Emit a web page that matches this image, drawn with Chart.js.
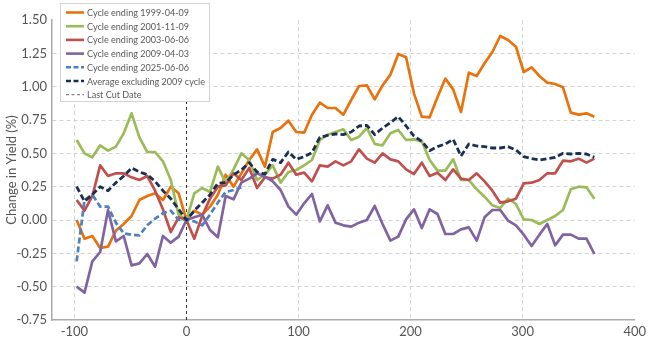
<!DOCTYPE html>
<html><head><meta charset="utf-8">
<script src="https://cdn.jsdelivr.net/npm/chart.js@4.4.0/dist/chart.umd.min.js"></script>
<style>html,body{margin:0;padding:0;background:#fff;}</style>
</head><body>
<canvas id="c" width="650" height="350" style="display:block;width:650px;height:350px"></canvas>
<script>
// ---- data (days relative to last cut date) ----
const days = [-98,-91,-84,-77,-70,-63,-56,-49,-42,-35,-28,-21,-14,-7,0,7,14,21,28,35,42,49,56,63,70,77,84,91,98,105,112,119,126,133,140,147,154,161,168,175,182,189,196,203,210,217,224,231,238,245,252,259,266,273,280,287,294,301,308,315,322,329,336,343,350,357,364];

const cycle1999 = [0.00,-0.14,-0.12,-0.21,-0.20,-0.08,-0.03,0.03,0.15,0.18,
  0.20,0.15,0.25,0.20,0.00,0.07,0.04,0.10,0.19,0.34,
  0.25,0.35,0.45,0.53,0.40,0.66,0.69,0.745,0.66,0.655,
  0.79,0.88,0.84,0.84,0.79,0.90,1.005,1.01,0.905,1.01,
  1.09,1.245,1.22,0.95,0.775,0.77,0.92,1.06,0.98,0.81,
  1.105,1.08,1.175,1.26,1.38,1.35,1.30,1.11,1.145,1.08,
  1.03,1.02,0.995,0.805,0.79,0.80,0.775];

const cycle2001 = [0.60,0.50,0.47,0.56,0.52,0.55,0.65,0.80,0.62,0.51,
  0.51,0.44,0.30,0.04,0.00,0.20,0.24,0.21,0.40,0.28,
  0.38,0.50,0.45,0.30,0.34,0.41,0.28,0.36,0.375,0.41,
  0.45,0.60,0.64,0.66,0.68,0.60,0.625,0.69,0.57,0.56,
  0.65,0.675,0.60,0.605,0.59,0.45,0.37,0.37,0.455,0.30,
  0.30,0.23,0.175,0.11,0.09,0.16,0.12,0.005,0.00,-0.03,
  0.00,0.03,0.075,0.23,0.25,0.245,0.16];

const cycle2003 = [0.15,0.07,0.18,0.41,0.33,0.35,0.35,0.32,0.30,0.33,
  0.22,0.08,-0.09,0.02,0.00,-0.14,0.03,0.16,0.25,0.26,
  0.35,0.30,0.39,0.24,0.32,0.31,0.34,0.43,0.34,0.355,
  0.29,0.41,0.40,0.44,0.41,0.44,0.53,0.46,0.43,0.50,
  0.455,0.44,0.38,0.345,0.43,0.33,0.355,0.30,0.38,0.31,
  0.30,0.35,0.29,0.22,0.13,0.14,0.16,0.275,0.28,0.30,
  0.35,0.35,0.445,0.44,0.46,0.43,0.46];

const cycle2009 = [-0.50,-0.545,-0.31,-0.24,0.075,-0.16,-0.12,-0.34,-0.325,-0.255,
  -0.35,-0.12,-0.17,-0.125,0.00,0.02,0.04,-0.075,-0.13,0.18,
  0.155,0.28,0.31,0.35,0.325,0.29,0.225,0.10,0.04,0.125,
  0.195,-0.01,0.11,-0.02,-0.04,-0.05,-0.02,0.00,0.105,-0.03,
  -0.155,-0.125,0.005,0.08,-0.06,0.08,0.045,-0.105,-0.105,-0.07,
  -0.055,-0.155,0.02,0.075,0.075,-0.005,-0.04,-0.11,-0.195,-0.11,
  -0.03,-0.19,-0.11,-0.11,-0.14,-0.14,-0.255];

const cycle2025 = [-0.31,0.15,0.19,0.10,0.10,-0.02,-0.10,-0.11,-0.115,-0.04,
  0.01,0.05,0.07,0.00,0.00,-0.01,-0.04,0.04,0.13,0.21,
  0.225,0.245];

const avgEx2009 = [0.25,0.14,0.19,0.25,0.22,0.28,0.33,0.39,0.36,0.34,
  0.29,0.22,0.16,0.08,0.00,0.07,0.13,0.19,0.275,0.28,
  0.34,0.375,0.43,0.36,0.345,0.455,0.43,0.51,0.455,0.475,
  0.505,0.62,0.635,0.645,0.64,0.66,0.705,0.71,0.64,0.69,
  0.73,0.775,0.705,0.63,0.59,0.52,0.55,0.57,0.605,0.48,
  0.57,0.555,0.55,0.54,0.54,0.55,0.525,0.475,0.46,0.45,
  0.46,0.47,0.50,0.495,0.50,0.495,0.47];

const seriesLabels = ['Cycle ending 1999-04-09','Cycle ending 2001-11-09','Cycle ending 2003-06-06',
  'Cycle ending 2009-04-03','Cycle ending 2025-06-06','Average excluding 2009 cycle','Last Cut Date'];
const lastCutDay = 0;
const xTicks = [-100,0,100,200,300,400];
const yTicks = [-0.75,-0.50,-0.25,0.00,0.25,0.50,0.75,1.00,1.25,1.50];

// ---- build ----
const pts = (vals) => vals.map((v,i) => ({x: days[i], y: v}));
const FONT = 'Lato';
const yMin = yTicks[0], yMax = yTicks[yTicks.length-1];

const datasets = [
  {label: seriesLabels[0], data: pts(cycle1999), borderColor:'#E8720C', borderWidth:2.7, order:6},
  {label: seriesLabels[1], data: pts(cycle2001), borderColor:'#9BBB59', borderWidth:2.7, order:5},
  {label: seriesLabels[2], data: pts(cycle2003), borderColor:'#C0504D', borderWidth:2.7, order:4},
  {label: seriesLabels[3], data: pts(cycle2009), borderColor:'#8064A2', borderWidth:2.7, order:3},
  {label: seriesLabels[4], data: pts(cycle2025), borderColor:'#4F81BD', borderWidth:2.7, borderDash:[6,3], order:2},
  {label: seriesLabels[5], data: pts(avgEx2009), borderColor:'#1B2F55', borderWidth:2.8, borderDash:[6,3], order:1},
  {label: seriesLabels[6], data: [{x:lastCutDay,y:yMin},{x:lastCutDay,y:yMax}], borderColor:'#333333', borderWidth:1, borderDash:[3,3], order:7, legendColor:'#666666'}
];
datasets.forEach(d => { d.pointRadius = 0; d.pointHoverRadius = 0; d.fill = false; d.tension = 0; d.borderCapStyle='butt'; d.borderJoinStyle='round'; });

const boxLegend = {
  id: 'boxLegend',
  afterDraw(chart) {
    const ctx = chart.ctx;
    const x0 = 60, y0 = 3, w = 149, h = 98;
    ctx.save();
    ctx.fillStyle = 'rgba(255,255,255,0.96)';
    ctx.fillRect(x0, y0, w, h);
    ctx.strokeStyle = '#d4d4d4'; ctx.lineWidth = 1;
    ctx.strokeRect(x0 + 0.5, y0 + 0.5, w, h);
    ctx.font = '9.6px ' + FONT;
    const longest = Math.max(...chart.data.datasets.map(ds => ctx.measureText(ds.label).width));
    const scale = Math.min(1, 118 / longest);
    chart.data.datasets.forEach((ds, i) => {
      const y = 12.5 + i * 13.7;
      ctx.beginPath();
      ctx.setLineDash(ds.borderDash ? (ds.borderWidth < 2 ? [3,2.5] : [5,2.5]) : []);
      ctx.strokeStyle = ds.legendColor || ds.borderColor;
      ctx.lineWidth = ds.borderWidth < 2 ? 1 : 2.6;
      ctx.moveTo(66, y); ctx.lineTo(84, y); ctx.stroke();
      ctx.setLineDash([]);
      ctx.fillStyle = '#5a5a5a';
      ctx.textBaseline = 'middle'; ctx.textAlign = 'left';
      const tw = ctx.measureText(ds.label).width * scale;
      ctx.fillText(ds.label, 87, y + 0.5, tw);
    });
    ctx.restore();
  }
};

const gridColor = (hidden) => (c) => (c.tick && hidden.includes(c.tick.value)) ? 'rgba(0,0,0,0)' : '#d3d3d3';

new Chart(document.getElementById('c'), {
  type: 'line',
  data: { datasets },
  plugins: [boxLegend],
  options: {
    responsive: false,
    animation: false,
    devicePixelRatio: 1,
    layout: { padding: { top: 20, right: 11, left: 0, bottom: 0 } },
    plugins: { legend: { display: false }, tooltip: { enabled: false } },
    scales: {
      x: {
        type: 'linear', min: -120, max: 400,
        afterBuildTicks: (s) => { s.ticks = xTicks.map(v => ({value: v})); },
        afterFit: (s) => { s.height = 30; },
        grid: { color: gridColor([0, 400]), lineWidth: 1, drawTicks: false },
        border: { display: true, color: '#aaaaaa', width: 1.5, dash: [4,3] },
        ticks: { color: '#555555', font: { family: FONT, size: 13 }, padding: 4, maxRotation: 0,
          callback: (v) => String(v) }
      },
      y: {
        type: 'linear', min: yMin, max: yMax,
        afterBuildTicks: (s) => { s.ticks = yTicks.map(v => ({value: v})); },
        afterFit: (s) => { s.width = 52; },
        grid: { color: gridColor([yMin, yMax]), lineWidth: 1, drawTicks: false },
        border: { display: true, color: '#aaaaaa', width: 1.5, dash: [4,3] },
        ticks: { color: '#555555', font: { family: FONT, size: 13 }, padding: 5,
          callback: (v) => Number(v).toFixed(2) },
        title: { display: true, text: 'Change in Yield (%)', color: '#555555',
          font: { family: FONT, size: 13 }, padding: { top: 4, bottom: 0 } }
      }
    }
  }
});
</script>
</body></html>
